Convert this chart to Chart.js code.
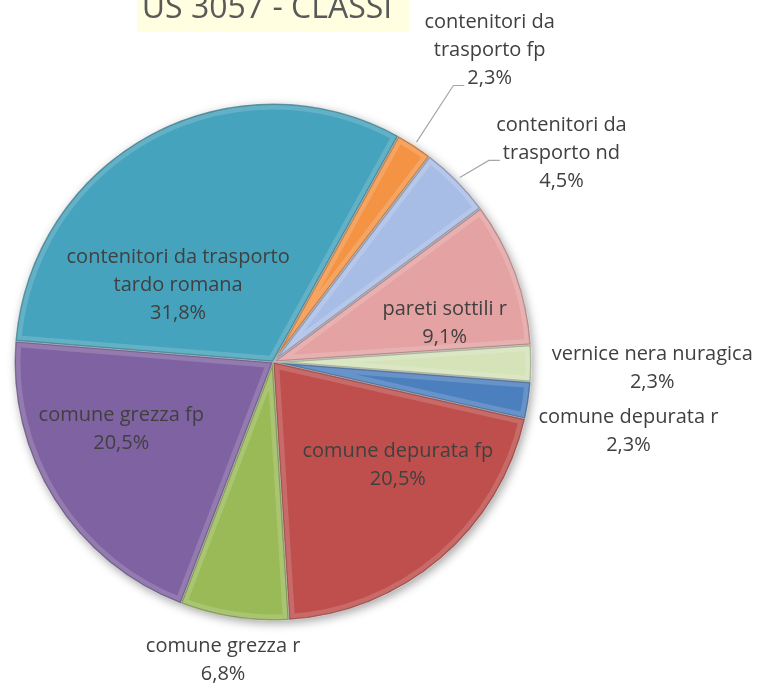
<!DOCTYPE html>
<html>
<head>
<meta charset="utf-8">
<script src="https://cdn.jsdelivr.net/npm/chart.js@4.4.1/dist/chart.umd.min.js"></script>
<style>
    html, body { margin: 0; padding: 0; background: #fff; }
    #wrap { width: 763px; height: 691px; }
</style>
</head>
<body>
<div id="wrap"><canvas id="grafClassi" width="763" height="691"></canvas></div>
<script>
// dati
const titolo = 'US 3057 - CLASSI';
const categorie = [
    ['contenitori da', 'trasporto fp'],
    ['contenitori da', 'trasporto nd'],
    ['pareti sottili r'],
    ['vernice nera nuragica'],
    ['comune depurata r'],
    ['comune depurata fp'],
    ['comune grezza r'],
    ['comune grezza fp'],
    ['contenitori da trasporto', 'tardo romana']
];
const percentuali = [2.3, 4.5, 9.1, 2.3, 2.3, 20.5, 6.8, 20.5, 31.8];
const colori = ['#f39343', '#a8bde6', '#e4a3a2', '#d5e3b9', '#4c7fbe', '#be4f4c', '#99ba57', '#7f62a1', '#46a3bd'];

// posizione etichette (in raggi, rispetto al centro) + riga con linea guida
const posEtichette = [
    [0.838, -1.205, 2],
    [1.116, -0.807, 1],
    [0.664, -0.151, null],
    [1.467, 0.023, null],
    [1.375, 0.270, null],
    [0.483, 0.398, null],
    [-0.193, 1.154, null],
    [-0.587, 0.259, null],
    [-0.367, -0.297, null]
];

const FONT = '"Open Sans", Lato, sans-serif';

const titoloPlugin = {
    id: 'titolo',
    afterDraw(chart) {
        const ctx = chart.ctx;
        ctx.save();
        ctx.fillStyle = '#fffee0';
        ctx.fillRect(137, 0, 272, 32);
        ctx.fillStyle = '#595959';
        ctx.font = '32px ' + FONT;
        ctx.textAlign = 'center';
        ctx.textBaseline = 'alphabetic';
        ctx.fillText(titolo, 267, 18);
        ctx.restore();
    }
};

const ombraPlugin = {
    id: 'ombra',
    beforeDatasetsDraw(chart) {
        const arc = chart.getDatasetMeta(0).data[0];
        if (!arc) return;
        const ctx = chart.ctx;
        ctx.save();
        ctx.shadowColor = 'rgba(0,0,0,0.35)';
        ctx.shadowBlur = 10;
        ctx.shadowOffsetX = 2;
        ctx.shadowOffsetY = 3;
        ctx.fillStyle = '#fff';
        ctx.beginPath();
        ctx.arc(arc.x, arc.y, arc.outerRadius, 0, Math.PI * 2);
        ctx.fill();
        ctx.restore();
    }
};

const rilievoPlugin = {
    id: 'rilievo',
    afterDatasetsDraw(chart) {
        const ctx = chart.ctx;
        chart.getDatasetMeta(0).data.forEach(arc => {
            ctx.save();
            ctx.beginPath();
            ctx.moveTo(arc.x, arc.y);
            ctx.arc(arc.x, arc.y, arc.outerRadius, arc.startAngle, arc.endAngle);
            ctx.closePath();
            ctx.clip();
            ctx.lineJoin = 'round';
            ctx.strokeStyle = 'rgba(255,255,255,0.16)';
            ctx.lineWidth = 12;
            ctx.stroke();
            ctx.strokeStyle = 'rgba(0,0,0,0.22)';
            ctx.lineWidth = 3;
            ctx.stroke();
            ctx.restore();
        });
    }
};

const etichettePlugin = {
    id: 'etichette',
    afterDraw(chart) {
        const ctx = chart.ctx;
        ctx.save();
        ctx.font = '20px ' + FONT;
        ctx.fillStyle = '#404040';
        ctx.textAlign = 'center';
        ctx.textBaseline = 'middle';
        chart.getDatasetMeta(0).data.forEach((arc, i) => {
            const p = posEtichette[i];
            const R = arc.outerRadius;
            const cx = arc.x + p[0] * R;
            const cy = arc.y + p[1] * R;
            const righe = [...categorie[i], percentuali[i].toFixed(1).replace('.', ',') + '%'];
            righe.forEach((r, k) => {
                ctx.fillText(r, cx, cy + (k - (righe.length - 1) / 2) * 28);
            });
            if (p[2] !== null) {
                const riga = righe[p[2]];
                const ly = cy + (p[2] - (righe.length - 1) / 2) * 28 + 7;
                const lx = cx - ctx.measureText(riga).width / 2 - 3;
                const mid = (arc.startAngle + arc.endAngle) / 2;
                const ax = arc.x + Math.cos(mid) * (R + 4);
                const ay = arc.y + Math.sin(mid) * (R + 4);
                ctx.beginPath();
                ctx.strokeStyle = '#a6a6a6';
                ctx.lineWidth = 1.2;
                ctx.moveTo(lx, ly);
                ctx.lineTo(lx - 11, ly);
                ctx.lineTo(ax, ay);
                ctx.stroke();
            }
        });
        ctx.restore();
    }
};

new Chart(document.getElementById('grafClassi').getContext('2d'), {
    type: 'pie',
    data: {
        labels: categorie.map(c => c.join(' ')),
        datasets: [{
            data: percentuali,
            backgroundColor: colori,
            borderColor: 'rgba(255,255,255,0.35)',
            borderWidth: 1,
            hoverOffset: 0
        }]
    },
    options: {
        responsive: false,
        animation: false,
        rotation: 29,
        layout: {
            padding: { left: 14, right: 231, top: 103, bottom: 70 }
        },
        plugins: {
            legend: { display: false },
            tooltip: { enabled: false }
        }
    },
    plugins: [ombraPlugin, rilievoPlugin, etichettePlugin, titoloPlugin]
});
</script>
</body>
</html>
